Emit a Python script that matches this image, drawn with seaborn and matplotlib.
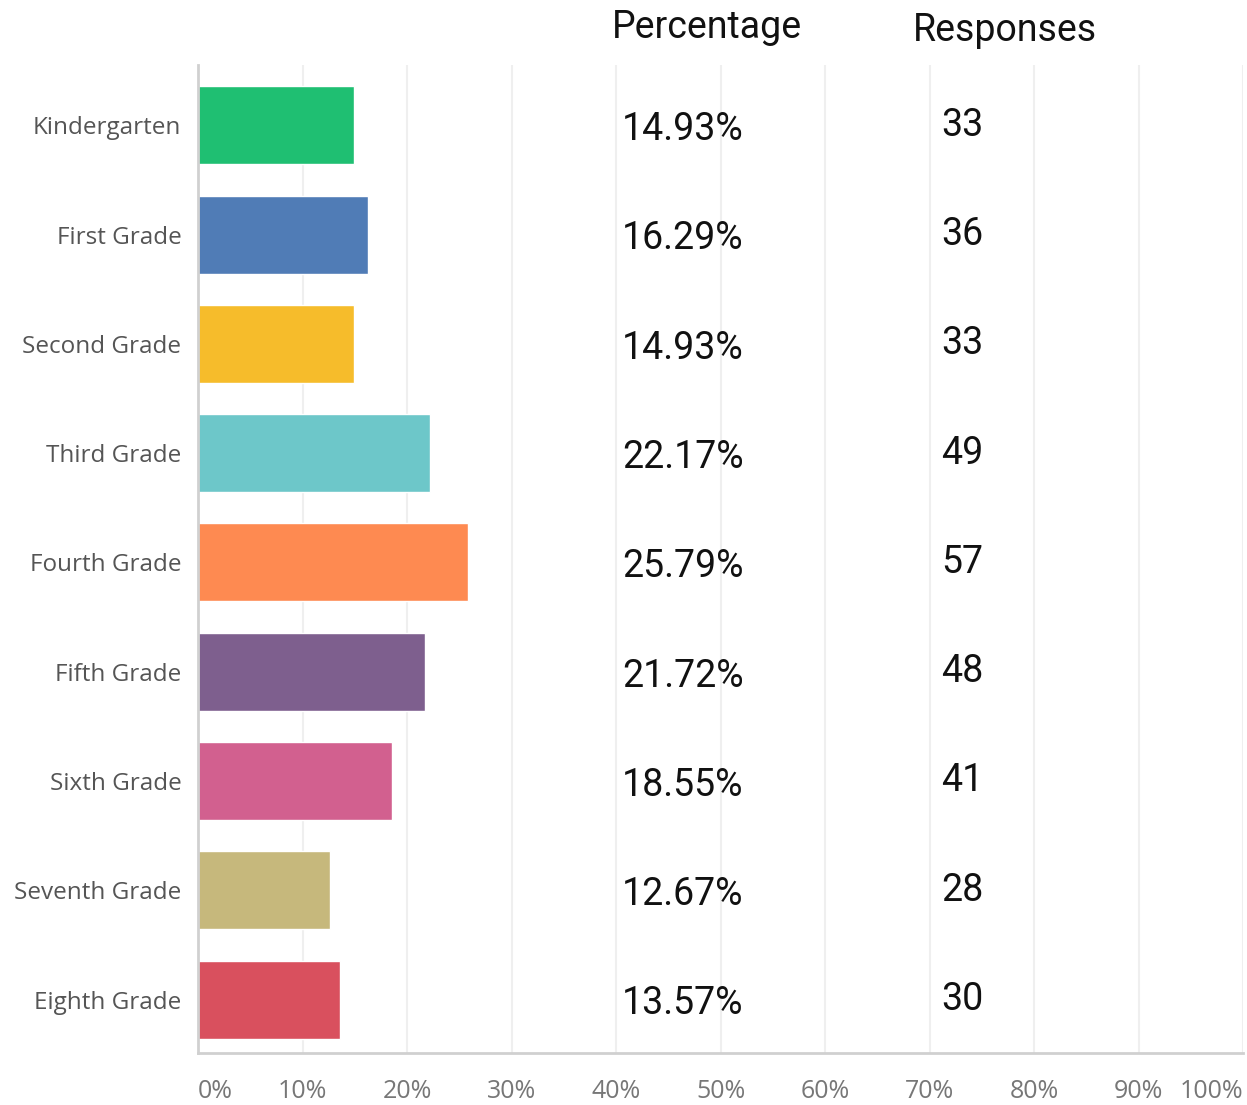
import pandas as pd
import seaborn as sns
import matplotlib.pyplot as plt
from matplotlib.ticker import FuncFormatter

sns.set_theme(style="white")
plt.rcParams['font.family'] = ['Open Sans', 'DejaVu Sans']

grades = ["Kindergarten", "First Grade", "Second Grade", "Third Grade", "Fourth Grade",
          "Fifth Grade", "Sixth Grade", "Seventh Grade", "Eighth Grade"]
percentages = [14.93, 16.29, 14.93, 22.17, 25.79, 21.72, 18.55, 12.67, 13.57]
responses = [33, 36, 33, 49, 57, 48, 41, 28, 30]
colors = ["#1fbf72", "#507cb6", "#f6bc2b", "#6dc7c9", "#fe8a51",
          "#7e5f8e", "#d2608f", "#c6b87c", "#d9505e"]

df = pd.DataFrame({"grade": grades, "pct": percentages, "resp": responses})

fig = plt.figure(figsize=(12.47, 11.05), dpi=100)
ax = fig.add_axes([0.1588, 0.047, 0.8380, 0.894])

sns.barplot(data=df, x="pct", y="grade", hue="grade", palette=colors,
            legend=False, width=0.714, saturation=1, ax=ax)

ax.set_xlim(0, 100)
ax.set_ylim(8.49, -0.55)
ax.set_xticks(range(0, 101, 10))
ax.xaxis.set_major_formatter(FuncFormatter(lambda x, pos: '%d%%' % x))
ax.grid(axis="x", color="#efefef", linewidth=1.5)
ax.set_axisbelow(True)
ax.set(xlabel="", ylabel="")

for s in ["top", "right"]:
    ax.spines[s].set_visible(False)
for s in ["left", "bottom"]:
    ax.spines[s].set_color("#d0d0d0")
    ax.spines[s].set_linewidth(2)

ax.tick_params(axis="y", labelsize=17.5, labelcolor="#555555", length=0, pad=12)
ax.tick_params(axis="x", labelsize=18, labelcolor="#777777", length=0, pad=19)
xlabels = ax.get_xticklabels()
xlabels[0].set_horizontalalignment("left")
xlabels[-1].set_horizontalalignment("right")

# value columns
for i, row in df.iterrows():
    ax.text(46.4, i + 0.04, "%.2f%%" % row["pct"], ha="center", va="center",
            fontsize=27, family="Roboto", color="#111111")
    ax.text(73.1, i, str(row["resp"]), ha="center", va="center",
            fontsize=27, family="Roboto", color="#111111")

fig.text(0.567, 0.975, "Percentage", ha="center", va="center",
         fontsize=27, family="Roboto", color="#111111")
fig.text(0.806, 0.972, "Responses", ha="center", va="center",
         fontsize=27, family="Roboto", color="#111111")

fig.savefig("out.png", dpi=100)
